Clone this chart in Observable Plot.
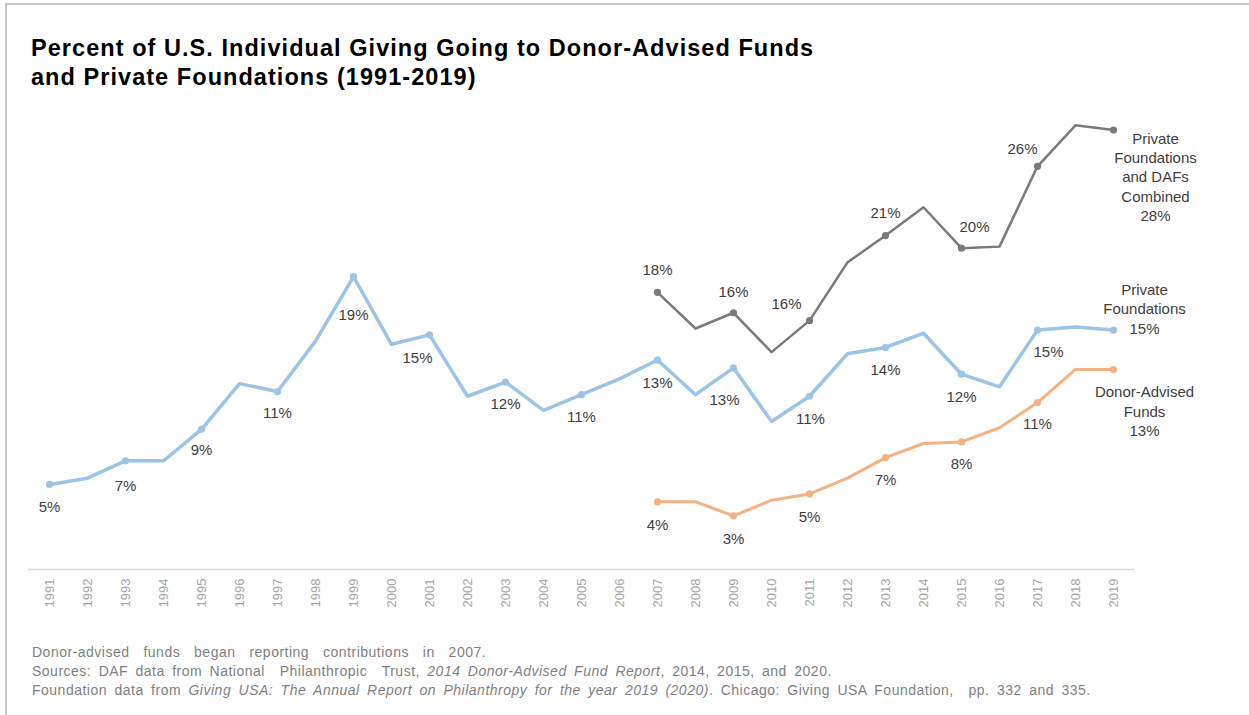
<!DOCTYPE html>
<html><head><meta charset="utf-8">
<script src="https://cdn.jsdelivr.net/npm/d3@7"></script>
<script src="https://cdn.jsdelivr.net/npm/@observablehq/plot@0.6"></script>
<style>
body{margin:0;background:#fff;font-family:"Liberation Sans",Arial,sans-serif;}
#wrap{position:relative;width:1249px;height:715px;overflow:hidden;background:#fff;}
#frame{position:absolute;left:5px;top:3px;width:1300px;height:800px;border-left:2px solid #c9c9c9;border-top:2px solid #c9c9c9;}
#title{position:absolute;left:31px;top:34px;font-weight:bold;font-size:23.5px;letter-spacing:1.05px;line-height:28.5px;color:#000;white-space:nowrap;}
#chart{position:absolute;left:0;top:100px;}
#notes{position:absolute;left:32px;top:642.6px;font-size:14px;line-height:19px;color:#7f7f7f;}
#notes div{white-space:pre;height:19px;letter-spacing:0.5px;word-spacing:3px;}
#notes div.first{word-spacing:9.5px;}
</style></head>
<body>
<div id="wrap">
<div id="frame"></div>
<div id="title">Percent of U.S. Individual Giving Going to Donor-Advised Funds<br>and Private Foundations (1991-2019)</div>
<div id="chart"></div>
<div id="notes">
<div class="first">Donor-advised funds began reporting contributions in 2007.</div>
<div><span>Sources: DAF data from National  Philanthropic  Trust, </span><i>2014 Donor-Advised Fund Report</i><span>, 2014, 2015, and 2020.</span></div>
<div><span>Foundation data from </span><i>Giving USA: The Annual Report on Philanthropy for the year 2019 (2020)</i><span>. Chicago: Giving USA Foundation,  pp. 332 and 335.</span></div>
</div>
</div>
<script>
// ---- data ----
const years = [1991,1992,1993,1994,1995,1996,1997,1998,1999,2000,2001,2002,2003,2004,2005,2006,2007,2008,2009,2010,2011,2012,2013,2014,2015,2016,2017,2018,2019];
const privateFoundations = [5.4,5.8,6.9,6.9,8.9,11.8,11.3,14.5,18.6,14.3,14.9,11.0,11.9,10.1,11.1,12.1,13.3,11.1,12.8,9.4,11.0,13.7,14.1,15.0,12.4,11.6,15.2,15.4,15.2];
const dafYears = [2007,2008,2009,2010,2011,2012,2013,2014,2015,2016,2017,2018,2019];
const donorAdvised = [4.3,4.3,3.4,4.4,4.8,5.8,7.1,8.0,8.1,9.0,10.6,12.7,12.7];
const combinedTotal = [17.6,15.3,16.3,13.8,15.8,19.5,21.2,23.0,20.4,20.5,25.6,28.2,27.9];

const pfLabelYears = [1991,1993,1995,1997,1999,2001,2003,2005,2007,2009,2011,2013,2015,2017];
const pfLabelText = ["5%","7%","9%","11%","19%","15%","12%","11%","13%","13%","11%","14%","12%","15%"];
const dafLabelYears = [2007,2009,2011,2013,2015,2017];
const dafLabelText = ["4%","3%","5%","7%","8%","11%"];
const combLabelYears = [2007,2009,2011,2013,2015,2017];
const combLabelText = ["18%","16%","16%","21%","20%","26%"];
const endLabelPF = "Private\nFoundations\n15%";
const endLabelDAF = "Donor-Advised\nFunds\n13%";
const endLabelComb = "Private\nFoundations\nand DAFs\nCombined\n28%";

// ---- styling / placement ----
const C_PF = "#9dc3e6", C_DAF = "#f4b183", C_COMB = "#7a7a7a", C_TXT = "#404040";
const pfNudge = {1991:[0,23],1993:[0,25],1995:[0,21],1997:[0,22],1999:[0,39],2001:[-12,23],2003:[0,22],2005:[0,23],2007:[0,23],2009:[-9,32],2011:[1,23],2013:[0,23],2015:[0,23],2017:[11,22]};
const dafNudge = {2007:[0,23],2009:[0,23],2011:[0,23],2013:[0,23],2015:[0,22],2017:[0,22]};
const combNudge = {2007:[0,-22],2009:[0,-21],2011:[-23,-16],2013:[0,-22],2015:[13,-21],2017:[-15,-17]};

const pf = years.map((y,i) => ({year:y, value:privateFoundations[i]}));
const daf = dafYears.map((y,i) => ({year:y, value:donorAdvised[i]}));
const comb = dafYears.map((y,i) => ({year:y, value:combinedTotal[i]}));
const odd = arr => arr.filter(d => d.year % 2 === 1);

function labelMarks(series, labelYears, labelText, nudge) {
  return labelYears.map((yr,i) => {
    const d = series.find(s => s.year === yr);
    const [dx,dy] = nudge[yr];
    return Plot.text([d], {x:"year", y:"value", text:() => labelText[i], dx, dy, fill:C_TXT, fontSize:15});
  });
}
const last = arr => [arr[arr.length-1]];

const chart = Plot.plot({
  width:1249, height:520,
  marginLeft:28, marginRight:115, marginTop:12.25, marginBottom:51,
  style:{fontFamily:"'Liberation Sans', Arial, sans-serif", background:"transparent", overflow:"visible"},
  x:{type:"point", domain:years, padding:0.5, axis:null},
  y:{domain:[0,29], axis:null},
  marks:[
    Plot.ruleY([0], {stroke:"#d9d9d9", strokeWidth:1.5}),
    Plot.axisX({tickRotate:-90, tickSize:0, tickPadding:9, fontSize:13, fill:"#a6a6a6", label:null, tickFormat:d => String(d)}),
    Plot.line(pf, {x:"year", y:"value", stroke:C_PF, strokeWidth:3.5}),
    Plot.line(comb, {x:"year", y:"value", stroke:C_COMB, strokeWidth:2.5}),
    Plot.line(daf, {x:"year", y:"value", stroke:C_DAF, strokeWidth:3}),
    Plot.dot(odd(pf), {x:"year", y:"value", r:3.6, fill:C_PF}),
    Plot.dot(odd(comb), {x:"year", y:"value", r:3.6, fill:C_COMB}),
    Plot.dot(odd(daf), {x:"year", y:"value", r:3.6, fill:C_DAF}),
    ...labelMarks(pf, pfLabelYears, pfLabelText, pfNudge),
    ...labelMarks(daf, dafLabelYears, dafLabelText, dafNudge),
    ...labelMarks(comb, combLabelYears, combLabelText, combNudge),
    Plot.text(last(pf), {x:"year", y:"value", text:() => endLabelPF, dx:31, dy:-22, lineHeight:1.29, fill:C_TXT, fontSize:15}),
    Plot.text(last(daf), {x:"year", y:"value", text:() => endLabelDAF, dx:31, dy:41, lineHeight:1.29, fill:C_TXT, fontSize:15}),
    Plot.text(last(comb), {x:"year", y:"value", text:() => endLabelComb, dx:42, dy:46, lineHeight:1.29, fill:C_TXT, fontSize:15})
  ]
});
document.getElementById("chart").appendChild(chart);
</script>
</body></html>
